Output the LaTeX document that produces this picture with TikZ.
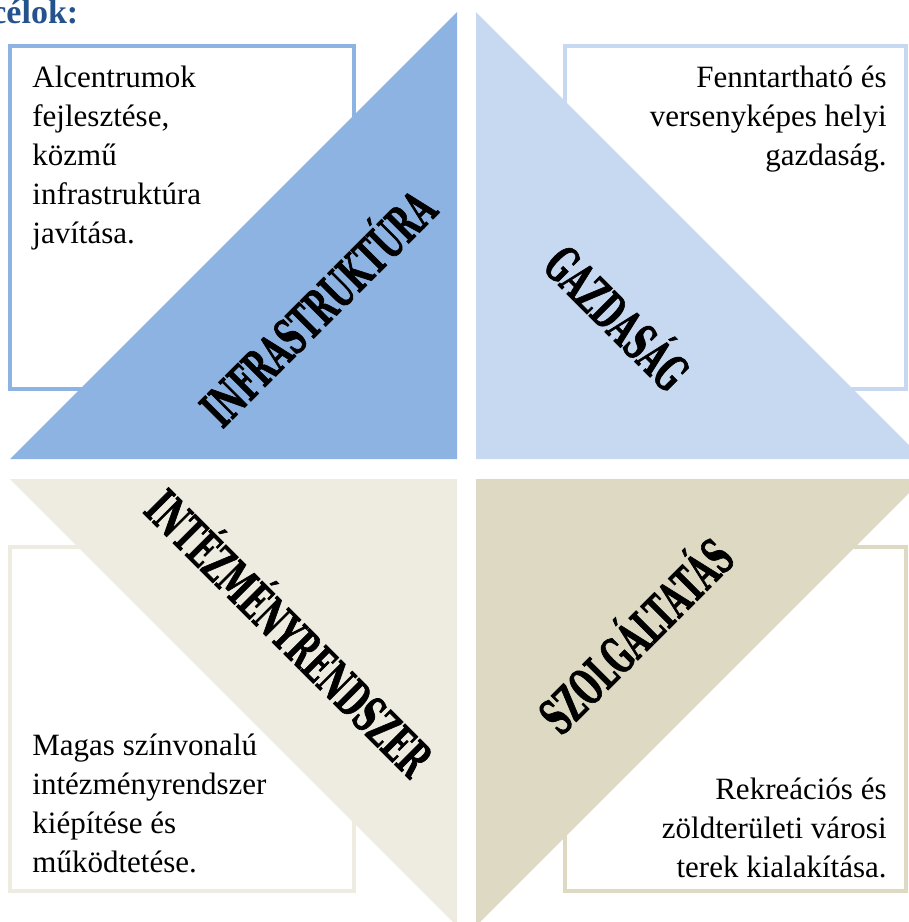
\documentclass[tikz,border=0pt]{standalone}
\usepackage{fontspec}
\setmainfont{Liberation Serif}
\newfontfamily\bandfont[FakeStretch=0.56,FakeBold=1.2]{DejaVu Serif}
\definecolor{infrablue}{HTML}{8DB3E2}
\definecolor{gazdblue}{HTML}{C6D9F1}
\definecolor{intezgray}{HTML}{EEECE1}
\definecolor{szolgtan}{HTML}{DDD9C3}
\definecolor{titleblue}{HTML}{24528C}

\begin{document}
\begin{tikzpicture}[x=0.5pt, y=-0.5pt,
    goalbox/.style={line width=2.2pt},
    band/.style={font=\bandfont\bfseries\fontsize{25}{25}\selectfont, inner sep=0pt},
    goaltext/.style={font=\fontsize{15.5}{19.5}\selectfont, inner sep=0pt}]
  \useasboundingbox (0,0) rectangle (909,922);

  \node[anchor=base west, text=titleblue, font=\bfseries\fontsize{17}{20}\selectfont, inner sep=0pt] (title) at (-9,23) {célok:};

  % goal boxes, behind the triangles
  \draw[goalbox, draw=infrablue] (10,46) rectangle (354,389);
  \draw[goalbox, draw=gazdblue] (565,46) rectangle (906,389);
  \draw[goalbox, draw=intezgray] (10,547) rectangle (354,891);
  \draw[goalbox, draw=szolgtan] (565,547) rectangle (906,891);

  % the four triangles
  \fill[infrablue] (457,12) -- (457,459) -- (10,459) -- cycle;
  \fill[gazdblue] (476,12) -- (476,459) -- (923,459) -- cycle;
  \fill[intezgray] (10,479) -- (457,479) -- (457,926) -- cycle;
  \fill[szolgtan] (476,479) -- (923,479) -- (476,926) -- cycle;

  \node[band, rotate=45] (infra) at (315,305) {INFRASTRUKTÚRA};
  \node[band, rotate=-45] (gazd) at (620,315) {GAZDASÁG};
  \node[band, rotate=-45] (intez) at (292,630) {INTÉZMÉNYRENDSZER};
  \node[band, rotate=45] (szolg) at (633,633) {SZOLGÁLTATÁS};

  % base anchor sits on the last line
  \node[goaltext, align=left, anchor=base west] (infratext) at (32,243)
    {Alcentrumok\\fejlesztése,\\közmű\\infrastruktúra\\javítása.};
  \node[goaltext, align=right, anchor=base east] (gazdtext) at (887,165)
    {Fenntartható és\\versenyképes helyi\\gazdaság.};
  \node[goaltext, align=left, anchor=base west] (interztext) at (32,872)
    {Magas színvonalú\\intézményrendszer\\kiépítése és\\működtetése.};
  \node[goaltext, align=right, anchor=base east] (szolgtext) at (887,877)
    {Rekreációs és\\zöldterületi városi\\terek kialakítása.};
\end{tikzpicture}
\end{document}
